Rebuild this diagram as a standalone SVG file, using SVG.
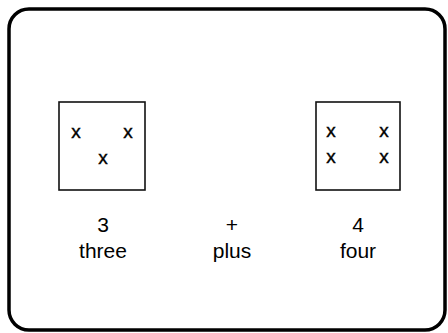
<svg xmlns="http://www.w3.org/2000/svg" width="448" height="333" viewBox="0 0 448 333">
  <style>
    .frame { fill: #fff; stroke: #000; stroke-width: 3.5; }
    .box { fill: none; stroke: #111; stroke-width: 1.6; }
    .mark { font-family: "Liberation Sans", Arial, sans-serif; font-size: 19px; fill: #000; stroke: #000; stroke-width: 0.4; text-anchor: middle; }
    .label { font-family: "Liberation Sans", Arial, sans-serif; font-size: 21px; fill: #000; text-anchor: middle; }
  </style>
  <rect width="448" height="333" fill="#fff"/>
  <!-- outer frame -->
  <rect class="frame" x="9" y="9" width="436" height="321" rx="20" ry="20"/>

  <!-- left set: three marks -->
  <g id="set-three">
    <rect class="box" x="59" y="102" width="86" height="88"/>
    <text class="mark" x="76" y="138">x</text>
    <text class="mark" x="128" y="138">x</text>
    <text class="mark" x="103" y="164">x</text>
  </g>

  <!-- right set: four marks -->
  <g id="set-four">
    <rect class="box" x="316" y="102" width="84" height="88"/>
    <text class="mark" x="331" y="137">x</text>
    <text class="mark" x="384" y="137">x</text>
    <text class="mark" x="331" y="163">x</text>
    <text class="mark" x="384" y="163">x</text>
  </g>

  <g id="label-three">
    <text class="label" x="103" y="232">3</text>
    <text class="label" x="103" y="258">three</text>
  </g>
  <g id="label-plus">
    <text class="label" x="232" y="232">+</text>
    <text class="label" x="232" y="258">plus</text>
  </g>
  <g id="label-four">
    <text class="label" x="358" y="232">4</text>
    <text class="label" x="358" y="258">four</text>
  </g>
</svg>
